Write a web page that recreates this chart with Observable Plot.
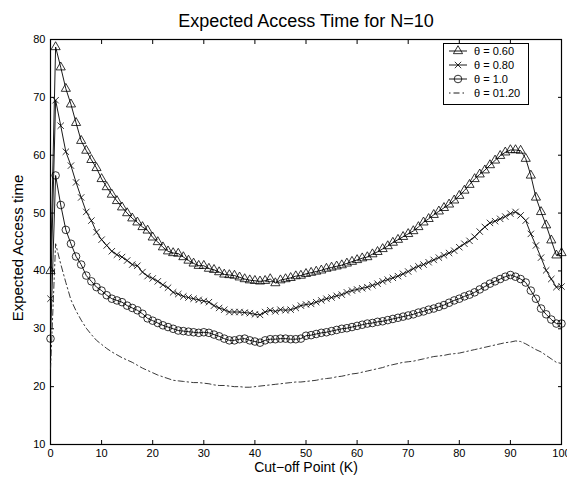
<!DOCTYPE html>
<html><head><meta charset="utf-8">
<script src="https://cdn.jsdelivr.net/npm/d3@7"></script>
<script src="https://cdn.jsdelivr.net/npm/@observablehq/plot@0.6"></script>
<style>
html,body{margin:0;padding:0;background:#fff;}
#wrap{position:relative;width:567px;height:482px;font-family:"Liberation Sans",Arial,Helvetica,sans-serif;}
#legend{position:absolute;left:443px;top:43px;}
</style></head>
<body><div id="wrap"></div>
<script>
const title = "Expected Access Time for N=10";
const xLabel = "Cut\u2212off Point (K)";
const yLabel = "Expected Access time";
const seriesNames = ["\u03b8 = 0.60", "\u03b8 = 0.80", "\u03b8 = 1.0", "\u03b8 = 01.20"];
const xTicks = [0,10,20,30,40,50,60,70,80,90,100];
const yTicks = [10,20,30,40,50,60,70,80];
const K = [0,1,2,3,4,5,6,7,8,9,10,11,12,13,14,15,16,17,18,19,20,21,22,23,24,25,26,27,28,29,30,31,32,33,34,35,36,37,38,39,40,41,42,43,44,45,46,47,48,49,50,51,52,53,54,55,56,57,58,59,60,61,62,63,64,65,66,67,68,69,70,71,72,73,74,75,76,77,78,79,80,81,82,83,84,85,86,87,88,89,90,91,92,93,94,95,96,97,98,99,100];
const theta060 = [40,78.7,75.2,71.5,68.8,65.6,62.5,60.8,59.2,57.8,55.9,54.5,53.2,52.1,51.0,50.0,49.1,48.4,47.6,47.0,45.8,45.0,44.1,43.4,43.1,43.0,42.4,41.8,41.3,40.9,40.9,40.4,40.2,39.8,39.4,39.3,39.2,38.9,38.6,38.4,38.3,38.2,38.3,38.6,37.9,38.4,38.6,38.8,39.1,39.2,39.5,39.7,39.9,40.1,40.4,40.6,40.8,41.0,41.3,41.6,41.9,42.2,42.4,42.9,43.3,43.8,44.3,44.9,45.4,45.9,46.4,46.9,47.6,48.4,49.0,49.7,50.3,50.9,51.5,52.2,53.0,53.9,54.9,55.9,56.7,57.4,58.3,59.1,59.9,60.5,60.9,60.9,60.8,59.4,56.5,52.7,50.2,47.9,45.3,42.7,43.1];
const theta080 = [35.2,69.5,65.1,60.6,58.2,55.3,52.7,50.2,48.7,46.7,45.4,44.4,43.4,42.8,42.4,41.8,41.1,40.9,39.8,39.1,38.7,38.2,37.6,37.1,36.3,36.0,35.6,35.4,35.2,35.0,34.8,34.6,34.0,33.6,33.3,32.9,32.9,32.9,32.8,32.7,32.5,32.4,32.9,33.2,33.0,33.3,33.2,33.3,33.6,34.0,34.2,34.3,34.6,34.9,35.2,35.4,35.7,35.9,36.3,36.6,36.8,37.0,37.2,37.5,37.8,38.2,38.5,38.8,39.1,39.5,39.9,40.4,40.8,41.1,41.5,41.9,42.3,42.7,43.1,43.5,44.1,44.7,45.2,45.9,46.8,47.6,48.3,48.6,49.0,49.4,49.9,50.2,49.6,48.7,46.4,44.4,42.3,40.1,38.6,37.2,37.3];
const theta100 = [28.3,56.5,51.4,47.1,44.7,42.5,41.1,39.2,38.2,37.2,36.6,35.8,35.2,34.9,34.6,34.0,33.6,33.2,32.6,31.8,31.4,31.0,30.6,30.3,30.0,29.7,29.6,29.5,29.4,29.3,29.4,29.3,29.0,28.7,28.3,28.0,28.0,28.2,28.3,28.0,27.8,27.6,28.0,28.2,28.2,28.3,28.3,28.2,28.2,28.3,28.8,28.9,29.1,29.3,29.4,29.6,29.8,30.0,30.1,30.3,30.5,30.7,30.9,31.0,31.2,31.3,31.5,31.7,31.9,32.1,32.3,32.5,32.8,33.0,33.3,33.5,33.8,34.1,34.5,34.9,35.2,35.6,35.9,36.3,36.8,37.3,37.8,38.2,38.6,39.0,39.3,39.0,38.6,38.0,36.6,35.2,33.5,32.5,31.6,30.9,30.9];
const theta120 = [23,44.7,41.2,38.0,35.0,33.1,31.5,30.1,29.0,28.0,27.3,26.6,26.0,25.5,25.0,24.6,24.2,23.7,23.2,22.8,22.4,22.0,21.7,21.4,21.1,21.0,20.9,20.8,20.7,20.7,20.6,20.5,20.3,20.2,20.2,20.1,20.0,20.0,19.9,19.9,20.0,20.1,20.2,20.3,20.4,20.5,20.6,20.7,20.8,20.8,20.9,21.0,21.1,21.3,21.4,21.5,21.7,21.8,22.0,22.2,22.3,22.5,22.7,22.9,23.1,23.3,23.6,23.8,24.0,24.2,24.3,24.4,24.6,24.8,25.0,25.2,25.3,25.4,25.6,25.7,25.8,26.0,26.2,26.4,26.6,26.8,27.0,27.2,27.4,27.6,27.7,27.9,27.8,27.4,26.9,26.4,26.0,25.4,24.8,24.2,24.0];

const FONT = '"Liberation Sans",Arial,Helvetica,sans-serif';
const mk = (vals) => K.map((k, i) => ({k, v: vals[i]}));
const d060 = mk(theta060), d080 = mk(theta080), d100 = mk(theta100), d120 = mk(theta120);

const lineOpts = {x: "k", y: "v", stroke: "black", strokeWidth: 0.9};
const chart = Plot.plot({
  width: 567, height: 482,
  marginTop: 39, marginBottom: 38, marginLeft: 50, marginRight: 6,
  style: {fontFamily: FONT, color: "black", background: "white"},
  x: {domain: [0, 100]},
  y: {domain: [10, 80]},
  marks: [
    Plot.frame({stroke: "black", strokeWidth: 1.2}),
    Plot.axisX(xTicks, {anchor: "bottom", tickSize: -4, tickPadding: 9, fontSize: 11, label: null}),
    Plot.axisX(xTicks, {anchor: "top", tickSize: -4, text: null, label: null}),
    Plot.axisY(yTicks, {anchor: "left", tickSize: -4, tickPadding: 9, fontSize: 11, label: null}),
    Plot.axisY(yTicks, {anchor: "right", tickSize: -4, text: null, label: null}),
    Plot.line(d120, {...lineOpts, strokeDasharray: "6,3,1.5,3", stroke: "#222"}),
    Plot.line(d100, lineOpts),
    Plot.line(d080, lineOpts),
    Plot.line(d060, lineOpts),
    Plot.dot(d100, {x: "k", y: "v", symbol: "circle", r: 3.8, stroke: "black", strokeWidth: 0.8, fill: "none"}),
    Plot.dot(d080, {x: "k", y: "v", symbol: "times", r: 3.0, stroke: "black", strokeWidth: 0.8, fill: "none"}),
    Plot.dot(d060, {x: "k", y: "v", symbol: "triangle", r: 3.4, stroke: "black", strokeWidth: 0.8, fill: "none"}),
    Plot.text([title], {frameAnchor: "top", lineAnchor: "middle", textAnchor: "middle", dy: -18, fontSize: 18, fill: "black"}),
    Plot.text([xLabel], {frameAnchor: "bottom", lineAnchor: "middle", textAnchor: "middle", dy: 23, fontSize: 14, fill: "black"}),
    Plot.text([yLabel], {frameAnchor: "left", lineAnchor: "middle", textAnchor: "middle", dx: -32, dy: 6, rotate: -90, fontSize: 15, fill: "black"})
  ]
});
const wrap = document.getElementById("wrap");
wrap.appendChild(chart);

// Legend
const lw = 86, lh = 62;
const leg = d3.select(wrap).append("svg").attr("id", "legend").attr("width", lw).attr("height", lh)
  .style("font-family", FONT);
leg.append("rect").attr("x", 0.5).attr("y", 0.5).attr("width", lw - 1).attr("height", lh - 1)
  .attr("fill", "white").attr("stroke", "black").attr("stroke-width", 1);
const symbols = [d3.symbolTriangle, d3.symbolTimes, d3.symbolCircle, null];
const sizes = [Math.PI*3.4*3.4, Math.PI*3.0*3.0, Math.PI*3.8*3.8, 0];
seriesNames.forEach((name, i) => {
  const cy = 8 + i * 14;
  const g = leg.append("g").attr("transform", `translate(0,${cy})`);
  g.append("line").attr("x1", 6).attr("x2", 24).attr("y1", 0).attr("y2", 0)
    .attr("stroke", "black").attr("stroke-width", 0.9)
    .attr("stroke-dasharray", i === 3 ? "1.5,3,6,3" : null);
  if (symbols[i]) g.append("path").attr("d", d3.symbol(symbols[i], sizes[i])())
    .attr("transform", "translate(15,0)").attr("fill", "none").attr("stroke", "black").attr("stroke-width", 0.8);
  g.append("text").attr("x", 31).attr("y", 0).attr("dy", "0.35em").attr("font-size", 11).text(name);
});
</script>
</body></html>
